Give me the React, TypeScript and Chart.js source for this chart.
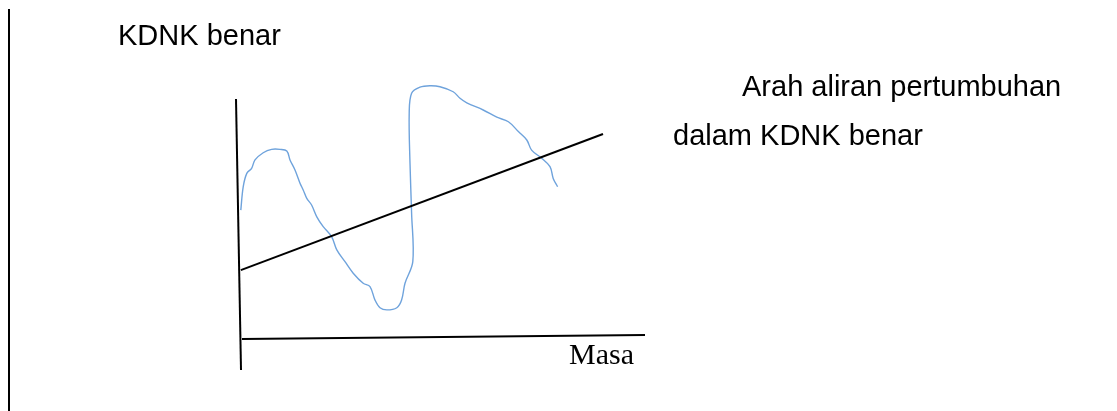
import React, { useEffect, useRef } from "react";
import { Chart, registerables } from "chart.js";

Chart.register(...registerables);

// Units: x = "Masa" (time), y = "KDNK benar" (real GDP), arbitrary sketch units
const curveMasa = [0.2, 0.8, 1.7, 2.9, 3.75, 5.8, 7.9, 10, 11.7, 12.5, 13.75, 15, 15.8, 16.7, 17.9, 19.2, 20.8, 22.9, 24.2, 26.25, 28.3, 30.8, 32.5, 33.75, 35, 36.7, 39.2, 40.4, 41.25, 43.2, 42.9, 42.5, 42.3, 42.9, 45, 47.5, 50, 53.3, 55, 56.7, 60.8, 64.2, 67.1, 69.6, 71.7, 72.9, 75.4, 77.5, 78.3, 79.4];
const curveKdnk = [53.3, 63.0, 68.6, 70.7, 74.2, 77.2, 78.6, 78.6, 77.9, 74.2, 70, 64.5, 61.7, 58.2, 55.4, 50.5, 46.4, 42.2, 36.7, 31.8, 27, 22.8, 21.4, 15.8, 12.6, 11.7, 12.6, 15.8, 22.8, 31.8, 52, 72.8, 93.6, 102, 104.5, 105.1, 104.7, 102.6, 99.9, 98, 95, 92, 90.1, 86, 82.5, 78.3, 74.9, 71.4, 66.5, 63];

const trendMasa = [0.2, 90.75];
const trendKdnk = [28.3, 85];

const yAxisMasa = [-1, 0.25];
const yAxisKdnk = [99.6, -13.3];
const xAxisMasa = [0.5, 101.25];
const xAxisKdnk = [-0.4, 1.25];
const borderMasa = [-57.75, -57.75];
const borderKdnk = [137.1, -30.4];

const labelTexts = ["KDNK benar", "Arah aliran pertumbuhan", "dalam KDNK benar", "Masa"];

const pairs = (xs: number[], ys: number[]) => xs.map((x, i) => ({ x, y: ys[i] }));

const labelLayout = [
  { x: -30.5, y: 122.1, font: "29px 'Liberation Sans', Arial, sans-serif" },
  { x: 125.5, y: 100.8, font: "29px 'Liberation Sans', Arial, sans-serif" },
  { x: 108.25, y: 80.4, font: "29px 'Liberation Sans', Arial, sans-serif" },
  { x: 82.25, y: -10.8, font: "30px 'Liberation Serif', 'Times New Roman', serif" },
];

const textPlugin = {
  id: "sketchText",
  afterDatasetsDraw(chart: any) {
    const { ctx, scales } = chart;
    ctx.save();
    ctx.fillStyle = "#000";
    ctx.textAlign = "left";
    ctx.textBaseline = "alphabetic";
    labelTexts.forEach((t, i) => {
      const l = labelLayout[i];
      ctx.font = l.font;
      ctx.fillText(t, scales.x.getPixelForValue(l.x), scales.y.getPixelForValue(l.y));
    });
    ctx.restore();
  },
};

export default function App() {
  const ref = useRef<HTMLCanvasElement | null>(null);
  useEffect(() => {
    document.body.style.margin = "0";
    const black = { borderColor: "#000", borderWidth: 2, pointRadius: 0, showLine: true, tension: 0, fill: false };
    const chart = new Chart(ref.current as HTMLCanvasElement, {
      type: "scatter",
      data: {
        datasets: [
          { ...black, label: "border", data: pairs(borderMasa, borderKdnk) },
          { ...black, label: "Paksi KDNK", data: pairs(yAxisMasa, yAxisKdnk) },
          { ...black, label: "Paksi Masa", data: pairs(xAxisMasa, xAxisKdnk) },
          { ...black, label: "Arah aliran pertumbuhan", data: pairs(trendMasa, trendKdnk) },
          {
            label: "KDNK benar",
            data: pairs(curveMasa, curveKdnk),
            borderColor: "#6fa3dc",
            borderWidth: 1.4,
            pointRadius: 0,
            showLine: true,
            tension: 0.35,
            fill: false,
          },
        ],
      },
      options: {
        animation: false,
        responsive: false,
        layout: { padding: 0 },
        plugins: { legend: { display: false }, tooltip: { enabled: false }, title: { display: false } },
        scales: {
          x: { type: "linear", min: -60, max: 219.25, display: false },
          y: { type: "linear", min: -30.417, max: 140.833, display: false },
        },
      },
      plugins: [textPlugin],
    } as any);
    return () => chart.destroy();
  }, []);
  return (
    <div style={{ width: 1117, height: 411, background: "#fff" }}>
      <canvas ref={ref} width={1117} height={411} style={{ display: "block" }} />
    </div>
  );
}
